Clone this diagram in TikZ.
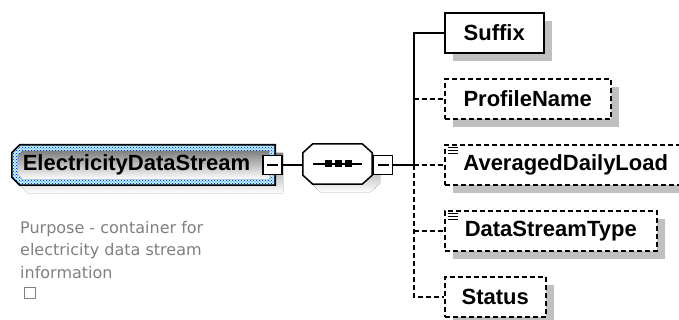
\documentclass[tikz,border=0pt]{standalone}
\usepackage{fontspec}
\setmainfont{Liberation Sans}
\newfontfamily\notefont{DejaVu Sans}
\usetikzlibrary{shadows,patterns}
\definecolor{shade}{HTML}{C0C0C0}
\definecolor{notegray}{HTML}{808080}
\definecolor{selcyan}{HTML}{B8F4FC}
\newcommand{\leftcut}[4]{([shift={#2},xshift=#3]#1.north west) -- ([shift={#2}]#1.north east)
	-- ([shift={#2}]#1.south east) -- ([shift={#2},xshift=#3]#1.south west)
	-- ([shift={#2},yshift=#4]#1.south west) -- ([shift={#2},yshift=-#4]#1.north west) -- cycle}
\newcommand{\allcut}[4]{([shift={#2},xshift=#3]#1.north west) -- ([shift={#2},xshift=-#3]#1.north east)
	-- ([shift={#2},yshift=-#4]#1.north east) -- ([shift={#2},yshift=#4]#1.south east)
	-- ([shift={#2},xshift=-#3]#1.south east) -- ([shift={#2},xshift=#3]#1.south west)
	-- ([shift={#2},yshift=#4]#1.south west) -- ([shift={#2},yshift=-#4]#1.north west) -- cycle}
\tikzset{
elem/.style={
	draw, line width=1.5pt, fill=white, minimum height=40pt, inner sep=0pt,
	anchor=west, font=\fontsize{22}{22}\selectfont\bfseries,
	copy shadow={shadow xshift=8pt, shadow yshift=-8pt, draw=none, fill=shade}},
optelem/.style={elem, dash pattern=on 5pt off 3pt},
simple/.style={path picture={
	\foreach \d in {2.5,5.5,8.5}
	  \draw[line width=1pt, solid] ([xshift=3pt,yshift=-\d pt]path picture bounding box.north west) -- ++(10pt,0pt);}},
minusbox/.style={draw, line width=1.5pt, fill=white, minimum size=19pt, inner sep=0pt,
	path picture={\draw[line width=1.5pt] ([xshift=4pt]path picture bounding box.west)
	  -- ([xshift=-4pt]path picture bounding box.east);}},
spot/.style={inner sep=0pt},
rootlabel/.style={inner sep=0pt, font=\fontsize{22}{22}\selectfont\bfseries},
link/.style={line width=1.5pt},
optlink/.style={line width=1.5pt, dash pattern=on 5pt off 3pt}
}

\begin{document}
\begin{tikzpicture}[x=1pt, y=-1pt]
	\useasboundingbox (0,0) rectangle (679,320);
	\node[spot, minimum width=263pt, minimum height=40pt] (stream) at (143.5,165) {};
	\node[spot, minimum width=251pt, minimum height=28pt] (streaminner) at (143.5,165) {};
	\fill[shade] \leftcut{stream}{(8pt,-8pt)}{8pt}{8pt};
	\path[preaction={fill=selcyan}, pattern=crosshatch dots, pattern color=blue]
		\leftcut{stream}{(0pt,0pt)}{8pt}{8pt};
	\fill[shade] \leftcut{streaminner}{(0pt,0pt)}{5pt}{5pt};
	\draw[line width=1.6pt] \leftcut{stream}{(0pt,0pt)}{8pt}{8pt};
	\node[rootlabel] (streamlabel) at (136.5,165) {ElectricityDataStream};
	\node[minusbox] (streamminus) at (272.5,165) {};

	\node[spot, minimum width=69pt, minimum height=40pt] (seq) at (337.5,164) {};
	\fill[shade] \allcut{seq}{(8pt,-8pt)}{10pt}{9pt};
	\filldraw[link, fill=white] \allcut{seq}{(0pt,0pt)}{10pt}{9pt};
	\draw[link] ([xshift=-24.5pt]seq.center) -- ([xshift=24.5pt]seq.center);
	\foreach \s in {-9,1,11}
		\fill ([xshift=\s pt]seq.center) +(-3.5pt,-3.5pt) rectangle +(3.5pt,3.5pt);
	\node[minusbox] (seqminus) at (383,165) {};
	\coordinate (fork) at (414,165);

	\node[elem, minimum width=99pt] (suffix) at (444,33) {Suffix};
	\node[optelem, minimum width=166pt] (profile) at (444,99) {ProfileName};
	\node[optelem, simple, minimum width=242pt] (avgload) at (444,165) {AveragedDailyLoad};
	\node[optelem, simple, minimum width=212pt] (streamtype) at (444,231) {DataStreamType};
	\node[optelem, minimum width=101pt] (status) at (444,297) {Status};

	\draw[link] (streamminus.east) -- (streamminus.east -| seq.west);
	\draw[link] (seqminus.east) -- (fork) |- (suffix.west);
	\draw[optlink] (fork) -- (avgload.west);
	\draw[optlink] (fork) |- (status.west);
	\draw[optlink] (profile.west -| fork) -- (profile.west);
	\draw[optlink] (streamtype.west -| fork) -- (streamtype.west);

	\node[anchor=base west, align=left, inner sep=0pt, text=notegray,
		font=\notefont\fontsize{16}{22.5}\selectfont] (purpose) at (20,278)
		{Purpose - container for\\electricity data stream\\information};
	\node[draw=notegray, line width=1pt, minimum size=11pt, inner sep=0pt] (docbox) at (30,292.5) {};
\end{tikzpicture}
\end{document}
